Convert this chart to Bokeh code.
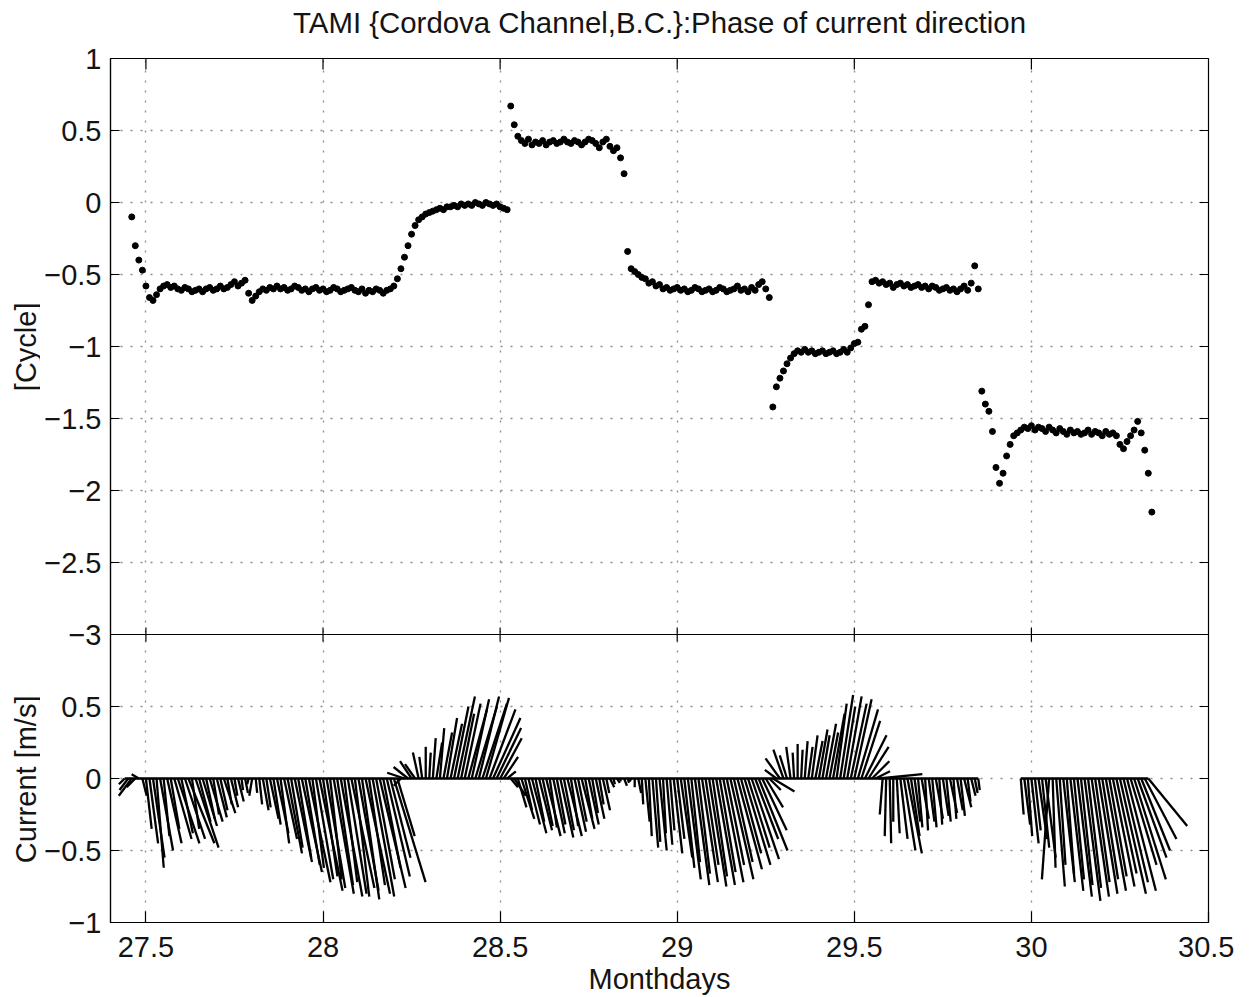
import math
from bokeh.plotting import figure
from bokeh.layouts import row, column
from bokeh.models import Range1d, LinearAxis, FixedTicker, Grid, Span
from bokeh.core.properties import value
from bokeh.embed import file_html
from bokeh.resources import INLINE

# ---------------- text ----------------
TITLE = "TAMI {Cordova Channel,B.C.}:Phase of current direction"
X_LABEL = "Monthdays"
Y_LABEL_TOP = "[Cycle]"
Y_LABEL_BOTTOM = "Current [m/s]"

# ---------------- ticks ----------------
X_TICKS = [27.5, 28, 28.5, 29, 29.5, 30, 30.5]
X_TICK_LABELS = ["27.5", "28", "28.5", "29", "29.5", "30", "30.5"]
PHASE_TICKS = [1, 0.5, 0, -0.5, -1, -1.5, -2, -2.5, -3]
PHASE_TICK_LABELS = ["1", "0.5", "0", "\u22120.5", "\u22121", "\u22121.5", "\u22122", "\u22122.5", "\u22123"]
CUR_TICKS = [0.5, 0, -0.5, -1]
CUR_TICK_LABELS = ["0.5", "0", "\u22120.5", "\u22121"]

# ---------------- data ----------------
SAMPLE_DAYS = 0.01

PHASE_START = 27.46
phase = [
    -0.10, -0.30, -0.40, -0.47, -0.58, -0.66, -0.68, -0.64, -0.60, -0.58,
    -0.57, -0.59, -0.58, -0.60, -0.61, -0.59, -0.60, -0.62, -0.61, -0.60,
    -0.62, -0.60, -0.59, -0.61, -0.60, -0.58, -0.60, -0.59, -0.57, -0.55,
    -0.58, -0.56, -0.54, -0.63, -0.68, -0.65, -0.62, -0.60, -0.61, -0.59,
    -0.60, -0.58, -0.60, -0.59, -0.61, -0.60, -0.58, -0.59, -0.61, -0.60,
    -0.62, -0.60, -0.59, -0.61, -0.60, -0.62, -0.61, -0.59, -0.60, -0.62,
    -0.61, -0.60, -0.59, -0.61, -0.62, -0.60, -0.63, -0.61, -0.62, -0.60,
    -0.61, -0.63, -0.61, -0.60, -0.58, -0.53, -0.46, -0.38, -0.30, -0.22,
    -0.16, -0.12, -0.10, -0.08, -0.07, -0.06, -0.05, -0.04, -0.05, -0.03,
    -0.03, -0.02, -0.03, -0.01, -0.02, -0.01, -0.02, 0.00, -0.01, -0.02,
    0.00, -0.01, -0.02, -0.01, -0.03, -0.04, -0.05, 0.67, 0.54, 0.46,
    0.43, 0.41, 0.44, 0.40, 0.42, 0.41, 0.43, 0.40, 0.42, 0.43,
    0.41, 0.42, 0.44, 0.42, 0.41, 0.43, 0.42, 0.40, 0.42, 0.44,
    0.43, 0.41, 0.38, 0.42, 0.44, 0.39, 0.36, 0.38, 0.31, 0.20,
    -0.34, -0.46, -0.48, -0.50, -0.52, -0.53, -0.56, -0.55, -0.58, -0.57,
    -0.60, -0.59, -0.61, -0.60, -0.59, -0.61, -0.60, -0.62, -0.61, -0.59,
    -0.60, -0.62, -0.61, -0.60, -0.62, -0.61, -0.59, -0.60, -0.62, -0.61,
    -0.60, -0.58, -0.61, -0.60, -0.62, -0.59, -0.61, -0.57, -0.55, -0.60,
    -0.66, -1.42, -1.28, -1.22, -1.17, -1.12, -1.08, -1.05, -1.03, -1.04,
    -1.02, -1.04, -1.03, -1.05, -1.04, -1.03, -1.05, -1.04, -1.03, -1.05,
    -1.04, -1.02, -1.04, -1.01, -0.98, -0.97, -0.88, -0.86, -0.71, -0.55,
    -0.54, -0.56, -0.55, -0.57, -0.56, -0.59, -0.57, -0.56, -0.58, -0.57,
    -0.59, -0.58, -0.57, -0.59, -0.58, -0.60, -0.58, -0.59, -0.61, -0.60,
    -0.59, -0.61, -0.60, -0.62, -0.60, -0.58, -0.61, -0.56, -0.44, -0.60,
    -1.31, -1.40, -1.45, -1.59, -1.84, -1.95, -1.88, -1.76, -1.68, -1.62,
    -1.60, -1.58, -1.56, -1.57, -1.55, -1.58, -1.56, -1.57, -1.59, -1.56,
    -1.58, -1.60, -1.57, -1.59, -1.61, -1.58, -1.60, -1.59, -1.61, -1.60,
    -1.58, -1.61, -1.59, -1.60, -1.62, -1.59, -1.61, -1.60, -1.62, -1.68,
    -1.71, -1.66, -1.62, -1.58, -1.52, -1.60, -1.72, -1.88, -2.15,
]

# current vectors (east u, north v) in m/s, first record
STICK1_START = 27.44
stick1_v = [
    -0.04, -0.08, -0.12, -0.06, 0.03, -0.12, -0.35, -0.45, -0.55, -0.62,
    -0.50, -0.40, -0.45, -0.35, -0.42, -0.45, -0.38, -0.42, -0.45, -0.35,
    -0.48, -0.30, -0.33, -0.28, -0.30, -0.25, -0.27, -0.22, -0.24, -0.18,
    -0.20, -0.12, -0.16, -0.08, -0.10, -0.04, -0.12, -0.10, -0.18, -0.22,
    -0.20, -0.28, -0.32, -0.38, -0.45, -0.42, -0.52, -0.48, -0.58, -0.55,
    -0.65, -0.60, -0.72, -0.62, -0.70, -0.78, -0.68, -0.76, -0.70, -0.80,
    -0.74, -0.82, -0.72, -0.80, -0.76, -0.82, -0.78, -0.84, -0.80, -0.74,
    -0.82, -0.70, -0.76, -0.62, -0.68, -0.55, -0.72, -0.40, -0.05, 0.04,
    0.08, 0.12, 0.10, 0.18, 0.15, 0.22, 0.18, 0.28, 0.25, 0.35,
    0.32, 0.42, 0.38, 0.50, 0.57, 0.45, 0.52, 0.48, 0.55, 0.50,
    0.57, 0.52, 0.56, 0.48, 0.42, 0.35, 0.28, 0.15, 0.05, -0.06,
    -0.12, -0.20, -0.28, -0.22, -0.32, -0.38, -0.30, -0.36, -0.33, -0.40,
    -0.34, -0.38, -0.32, -0.41, -0.36, -0.40, -0.33, -0.37, -0.30, -0.35,
    -0.28, -0.32, -0.24, -0.28, -0.18, -0.22, -0.10, -0.06, -0.04, -0.03,
    -0.02, -0.05, -0.03, -0.02, -0.06, -0.10, -0.18, -0.30, -0.40, -0.48,
    -0.44, -0.50, -0.38, -0.46, -0.36, -0.52, -0.42, -0.55, -0.62, -0.70,
    -0.58, -0.74, -0.66, -0.72, -0.60, -0.75, -0.68, -0.74, -0.65, -0.72,
    -0.60, -0.70, -0.58, -0.63, -0.52, -0.60, -0.48, -0.56, -0.42, -0.50,
    -0.36, -0.20, -0.08, -0.09, 0.06, 0.14, 0.20, 0.16, 0.22, 0.18,
    0.24, 0.20, 0.26, 0.22, 0.30, 0.26, 0.34, 0.30, 0.38, 0.32,
    0.45, 0.52, 0.58, 0.50, 0.57, 0.52, 0.55, 0.48, 0.40, 0.30,
    0.22, 0.12, 0.05, 0.03, -0.25, -0.40, -0.45, -0.30, -0.38, -0.42,
    -0.50, -0.52, -0.40, -0.30, -0.34, -0.28, -0.36, -0.30, -0.34, -0.28,
    -0.32, -0.26, -0.30, -0.24, -0.28, -0.22, -0.26, -0.20, -0.16, -0.12,
    -0.10, -0.08,
]
stick1_u = [
    -0.04, -0.06, -0.09, -0.06, -0.05, 0.03, 0.04, 0.06, 0.08, 0.05,
    0.09, 0.04, 0.10, 0.06, 0.12, 0.15, 0.08, 0.14, 0.18, 0.05,
    0.16, 0.08, 0.10, 0.06, 0.09, 0.04, 0.07, 0.05, 0.08, 0.03,
    0.05, 0.02, 0.04, 0.01, 0.02, -0.01, -0.02, 0.01, 0.02, 0.04,
    0.03, 0.06, 0.05, 0.08, 0.06, 0.09, 0.10, 0.08, 0.12, 0.09,
    0.14, 0.10, 0.15, 0.08, 0.12, 0.16, 0.10, 0.13, 0.08, 0.14,
    0.11, 0.15, 0.09, 0.13, 0.16, 0.10, 0.14, 0.12, 0.17, 0.11,
    0.15, 0.13, 0.18, 0.12, 0.16, 0.14, 0.22, 0.12, -0.05, -0.12,
    -0.10, -0.08, -0.07, -0.04, -0.02, 0.00, 0.01, 0.02, 0.04, 0.03,
    0.06, 0.07, 0.08, 0.10, 0.12, 0.09, 0.11, 0.13, 0.12, 0.15,
    0.14, 0.17, 0.16, 0.18, 0.19, 0.17, 0.15, 0.10, 0.06, 0.05,
    0.08, 0.06, 0.09, 0.05, 0.08, 0.10, 0.06, 0.09, 0.07, 0.10,
    0.05, 0.08, 0.06, 0.09, 0.07, 0.10, 0.05, 0.08, 0.06, 0.09,
    0.05, 0.07, 0.04, 0.06, 0.03, 0.05, 0.02, 0.03, 0.01, 0.02,
    0.00, 0.02, 0.01, -0.01, 0.00, 0.02, 0.01, 0.03, 0.02, 0.04,
    0.03, 0.05, 0.02, 0.04, 0.03, 0.06, 0.05, 0.08, 0.07, 0.09,
    0.06, 0.10, 0.08, 0.11, 0.09, 0.12, 0.10, 0.13, 0.11, 0.14,
    0.12, 0.16, 0.13, 0.17, 0.14, 0.18, 0.15, 0.19, 0.16, 0.20,
    0.17, 0.12, 0.08, 0.15, -0.08, -0.10, -0.07, -0.05, -0.03, -0.01,
    0.00, 0.01, 0.02, 0.03, 0.04, 0.05, 0.06, 0.05, 0.07, 0.06,
    0.08, 0.07, 0.09, 0.08, 0.10, 0.11, 0.12, 0.14, 0.13, 0.15,
    0.14, 0.12, 0.10, 0.30, -0.02, -0.01, 0.01, 0.00, 0.02, 0.05,
    0.08, 0.10, 0.06, 0.04, 0.03, 0.05, 0.02, 0.04, 0.03, 0.05,
    0.02, 0.04, 0.03, 0.05, 0.02, 0.04, 0.03, 0.05, 0.02, 0.03,
    0.02, 0.01,
]

# second record after the gap
STICK2_START = 29.97
stick2_v = [
    -0.25, -0.32, -0.40, -0.45, -0.36, -0.42, -0.48, -0.55, -0.70, -0.62,
    -0.75, -0.60, -0.72, -0.66, -0.78, -0.70, -0.82, -0.74, -0.85, -0.76,
    -0.82, -0.72, -0.80, -0.70, -0.78, -0.68, -0.75, -0.66, -0.80, -0.72,
    -0.78, -0.60, -0.70, -0.55, -0.50, -0.42, -0.33,
]
stick2_u = [
    0.02, 0.04, 0.03, 0.05, 0.04, 0.06, 0.05, 0.07, -0.05, 0.02,
    0.06, 0.04, 0.08, 0.05, 0.09, 0.07, 0.10, 0.08, 0.11, 0.09,
    0.12, 0.10, 0.13, 0.11, 0.14, 0.12, 0.15, 0.14, 0.18, 0.17,
    0.20, 0.18, 0.22, 0.20, 0.20, 0.22, 0.27,
]

# ---------------- layout / style ----------------
FONT = "Liberation Sans"
FS = "29px"
FS_TITLE = "29.4px"
INK = "#141414"
X_RANGE = (27.4, 30.5)
PHASE_RANGE = (-5, 1)     # phase panel occupies -3..1 (upper 2/3 of frame)
CUR_RANGE = (-1, 5)       # current panel occupies -1..1 (lower 1/3 of frame)
PANEL_SPLIT = -3          # phase value of the panel boundary
LAB_W = 40                # strip holding the two y-axis titles
LAB_X = 25
TITLE_H = 40              # strip holding the title
TITLE_Y = 22              # title centre, px from the top
FRAME_TOP = 58
BORDER_L, BORDER_R, BORDER_T, BORDER_B = 110 - LAB_W, 26, FRAME_TOP - TITLE_H, 74
FRAME_W, FRAME_H = 1098, 865
PLOT_W = BORDER_L + FRAME_W + BORDER_R
PLOT_H = BORDER_T + FRAME_H + BORDER_B
TOTAL_H = TITLE_H + PLOT_H
Y_TICK_PX, X_TICK_PX, MID_TICK_PX = 9, 11, 7
GRID_KW = dict(grid_line_color="#8c8c8c", grid_line_dash="2 8", grid_line_width=1.3)


def times(start, n):
    return [round(start + i * SAMPLE_DAYS, 4) for i in range(n)]


def key(v):
    return int(v) if float(v).is_integer() else float(v)


def blank_strip(w, h):
    f = figure(width=w, height=h, x_range=Range1d(0, w), y_range=Range1d(0, h),
               output_backend="svg", toolbar_location=None, min_border=0,
               x_axis_location=None, y_axis_location=None)
    f.grid.visible = False
    f.outline_line_color = None
    f.background_fill_color = "white"
    f.border_fill_color = "white"
    return f


phase_t = times(PHASE_START, len(phase))
t1 = times(STICK1_START, len(stick1_v))
t2 = times(STICK2_START, len(stick2_v))

px_per_day = FRAME_W / (X_RANGE[1] - X_RANGE[0])
px_per_unit = FRAME_H / (PHASE_RANGE[1] - PHASE_RANGE[0])
stick_scale = px_per_unit / px_per_day   # days per m/s so sticks keep true direction
cur_offset = PHASE_RANGE[0] - CUR_RANGE[0]

p = figure(
    width=PLOT_W, height=PLOT_H,
    x_range=Range1d(*X_RANGE), y_range=Range1d(*PHASE_RANGE),
    output_backend="svg", toolbar_location=None,
    x_axis_location=None, y_axis_location=None,
    min_border_left=BORDER_L, min_border_right=BORDER_R,
    min_border_top=BORDER_T, min_border_bottom=BORDER_B,
)
p.grid.visible = False
p.extra_y_ranges = {"cur": Range1d(*CUR_RANGE)}
p.background_fill_color = "white"
p.border_fill_color = "white"
p.outline_line_color = "black"
p.outline_line_width = 1.2

# ---- axes ----
left_ticks = [key(v) for v in PHASE_TICKS] + [key(c + cur_offset) for c in CUR_TICKS]
left_labels = PHASE_TICK_LABELS + CUR_TICK_LABELS


def style_axis(ax):
    ax.axis_line_color = "black"
    ax.axis_line_width = 1.2
    ax.major_tick_line_color = "black"
    ax.major_tick_line_width = 1.2
    ax.major_tick_out = 0
    ax.minor_tick_in = 0
    ax.minor_tick_out = 0
    ax.major_label_text_font = FONT
    ax.major_label_text_font_size = FS
    ax.major_label_text_color = INK


yl = LinearAxis(ticker=FixedTicker(ticks=left_ticks, minor_ticks=[]),
                major_label_overrides=dict(zip(left_ticks, left_labels)))
style_axis(yl)
yl.major_tick_in = Y_TICK_PX
yl.major_label_standoff = 9
p.add_layout(yl, "left")

xb = LinearAxis(ticker=FixedTicker(ticks=X_TICKS, minor_ticks=[]),
                major_label_overrides=dict(zip([key(v) for v in X_TICKS], X_TICK_LABELS)))
style_axis(xb)
xb.major_tick_in = X_TICK_PX
xb.major_label_standoff = 14
xb.axis_label = X_LABEL
xb.axis_label_text_font = FONT
xb.axis_label_text_font_size = FS
xb.axis_label_text_font_style = "normal"
xb.axis_label_text_color = INK
xb.axis_label_standoff = 3
p.add_layout(xb, "below")

# ---- grids ----
p.add_layout(Grid(dimension=0, ticker=FixedTicker(ticks=X_TICKS[:-1]), **GRID_KW))
p.add_layout(Grid(dimension=1, ticker=FixedTicker(ticks=PHASE_TICKS[1:-1]), **GRID_KW))
p.add_layout(Grid(dimension=1, y_range_name="cur", ticker=FixedTicker(ticks=CUR_TICKS[:-1]), **GRID_KW))

# ---- tick marks on top edge, right edge and panel boundary ----
tick_kw = dict(line_color="black", line_width=1.2)
tx = X_TICKS[:-1]
dy_top = X_TICK_PX / px_per_unit
p.segment(x0=tx, y0=[PHASE_RANGE[1] - dy_top] * len(tx), x1=tx, y1=[PHASE_RANGE[1]] * len(tx), **tick_kw)
dy_mid = MID_TICK_PX / px_per_unit
p.segment(x0=tx, y0=[PANEL_SPLIT - dy_mid] * len(tx), x1=tx, y1=[PANEL_SPLIT + dy_mid] * len(tx), **tick_kw)
dx_r = Y_TICK_PX / px_per_day
p.segment(x0=[X_RANGE[1] - dx_r] * len(left_ticks), y0=left_ticks,
          x1=[X_RANGE[1]] * len(left_ticks), y1=left_ticks, **tick_kw)
p.add_layout(Span(location=PANEL_SPLIT, dimension="width", line_color="black", line_width=1.2))

# ---- phase scatter ----
p.scatter(phase_t, phase, size=6, marker="circle", fill_color="black", line_color="black")

# ---- current sticks ----
for tt, uu, vv in ((t1, stick1_u, stick1_v), (t2, stick2_u, stick2_v)):
    x1 = [t + u * stick_scale for t, u in zip(tt, uu)]
    p.segment(x0=tt, y0=[0] * len(tt), x1=x1, y1=vv, y_range_name="cur",
              line_color="black", line_width=2.3)
    p.line(tt, [0] * len(tt), y_range_name="cur", line_color="black", line_width=2.5)

# ---- strip with the title (its frame is aligned with the plot frame by the column) ----
ttl = blank_strip(PLOT_W, TITLE_H)
ttl.text(x=[PLOT_W / 2], y=[TITLE_H - TITLE_Y], text=[TITLE],
         text_font=value(FONT), text_font_size=value(FS_TITLE), text_color=INK,
         text_align="center", text_baseline="middle")

# ---- strip with the y-axis titles (kept outside the plot frame) ----
lab = blank_strip(LAB_W, TOTAL_H)
top_mid = FRAME_TOP + (PHASE_RANGE[1] - (PHASE_RANGE[1] + PANEL_SPLIT) / 2) * px_per_unit
bot_mid = FRAME_TOP + (PHASE_RANGE[1] - (0 + cur_offset)) * px_per_unit
lab.text(x=[LAB_X, LAB_X], y=[TOTAL_H - top_mid, TOTAL_H - bot_mid],
         text=[Y_LABEL_TOP, Y_LABEL_BOTTOM], angle=math.pi / 2,
         text_font=value(FONT), text_font_size=value(FS), text_color=INK,
         text_align="center", text_baseline="middle")

layout = row(lab, column(ttl, p))
open("out.html", "w").write(file_html(layout, INLINE))
